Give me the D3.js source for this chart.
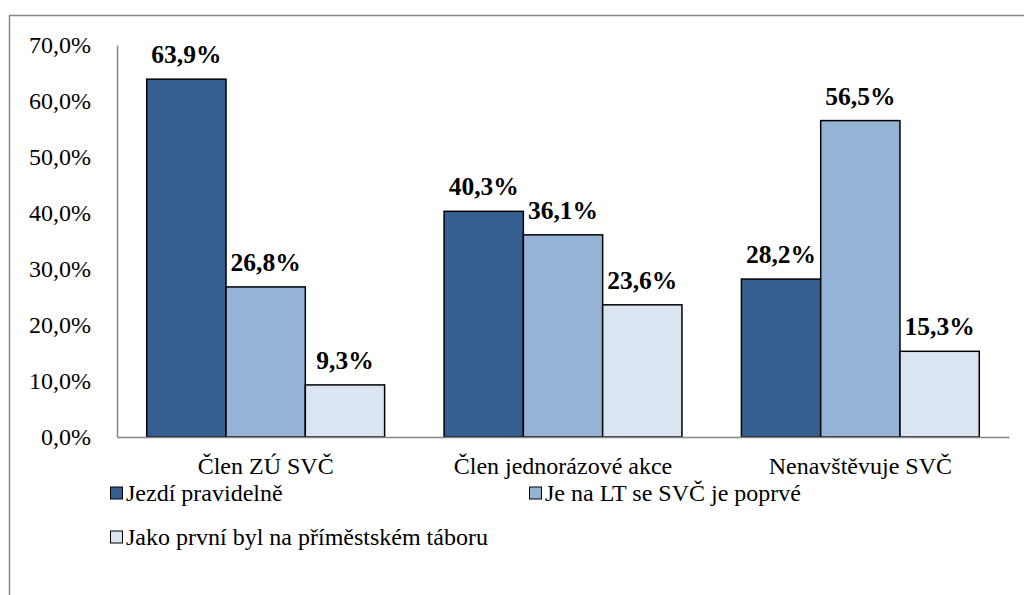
<!DOCTYPE html>
<html>
<head>
<meta charset="utf-8">
<script src="https://cdn.jsdelivr.net/npm/d3@7"></script>
<style>
  body { margin: 0; background: #fff; }
  svg { display: block; }
</style>
</head>
<body>
<div id="chart"></div>
<script>
var categories = ["Člen ZÚ SVČ", "Člen jednorázové akce", "Nenavštěvuje SVČ"];
var seriesNames = ["Jezdí pravidelně", "Je na LT se SVČ je poprvé", "Jako první byl na příměstském táboru"];
var jezdi = [63.9, 40.3, 28.2];
var poprve = [26.8, 36.1, 56.5];
var primestsky = [9.3, 23.6, 15.3];
var yTicks = [0, 10, 20, 30, 40, 50, 60, 70];
var colors = ["#365F91", "#95B3D7", "#DBE5F1"];

var seriesValues = [jezdi, poprve, primestsky];
var fmt = function(v) { return v.toFixed(1).replace(".", ",") + "%"; };
var FONT = "Times New Roman";

var W = 1024, H = 595;
var margin = {top: 45, left: 117, right: 15, bottom: 158};
var width = W - margin.left - margin.right,
    height = H - margin.top - margin.bottom;

var svg = d3.select("#chart").append("svg")
    .attr("width", W)
    .attr("height", H);

// outer frame (left + top visible)
svg.append("path")
  .attr("d", "M9.5," + H + " V15.5 H" + W)
  .attr("fill", "none")
  .attr("stroke", "#888")
  .attr("stroke-width", 1.5);

var g = svg.append("g")
  .attr("transform", "translate(" + margin.left + "," + margin.top + ")");

var x = d3.scaleBand()
  .domain(categories)
  .range([0, width])
  .paddingInner(0.2)
  .paddingOuter(0.1);

var x1 = d3.scaleBand()
  .domain(d3.range(seriesNames.length))
  .range([0, x.bandwidth()]);

var y = d3.scaleLinear()
  .domain([0, 70])
  .range([height, 0]);

// y axis
var yAxis = g.append("g")
  .call(d3.axisLeft(y).tickValues(yTicks).tickSize(0).tickPadding(26).tickFormat(fmt));
yAxis.select(".domain").attr("stroke", "#868686").attr("stroke-width", 1.5);
yAxis.selectAll("text")
  .attr("font-family", FONT)
  .attr("font-size", 24)
  .attr("fill", "#000");

// bars
categories.forEach(function(cat, ci) {
  seriesValues.forEach(function(vals, si) {
    var v = vals[ci];
    var bx = x(cat) + x1(si);
    g.append("rect")
      .attr("x", bx)
      .attr("y", y(v))
      .attr("width", x1.bandwidth())
      .attr("height", height - y(v))
      .attr("fill", colors[si])
      .attr("stroke", "#000")
      .attr("stroke-width", 1.5);
    g.append("text")
      .attr("x", bx + x1.bandwidth() / 2)
      .attr("y", y(v) - 16)
      .attr("text-anchor", "middle")
      .attr("font-family", FONT)
      .attr("font-size", 25.5)
      .attr("font-weight", "bold")
      .text(fmt(v));
  });
});

// x axis
var xAxis = g.append("g")
  .attr("transform", "translate(0," + height + ")")
  .call(d3.axisBottom(x).tickSize(0).tickPadding(20));
xAxis.select(".domain").attr("stroke", "#868686").attr("stroke-width", 1.5);
xAxis.selectAll("text")
  .attr("font-family", FONT)
  .attr("font-size", 24)
  .attr("fill", "#000");

// legend
var legendPos = [[110, 493], [529, 493], [110, 537]];
seriesNames.forEach(function(name, i) {
  var lg = svg.append("g")
    .attr("transform", "translate(" + legendPos[i][0] + "," + legendPos[i][1] + ")");
  lg.append("rect")
    .attr("x", 0.5)
    .attr("y", -6)
    .attr("width", 12)
    .attr("height", 12)
    .attr("fill", colors[i])
    .attr("stroke", "#000")
    .attr("stroke-width", 1);
  lg.append("text")
    .attr("x", 16)
    .attr("y", 7.5)
    .attr("font-family", FONT)
    .attr("font-size", 24)
    .text(name);
});
</script>
</body>
</html>
